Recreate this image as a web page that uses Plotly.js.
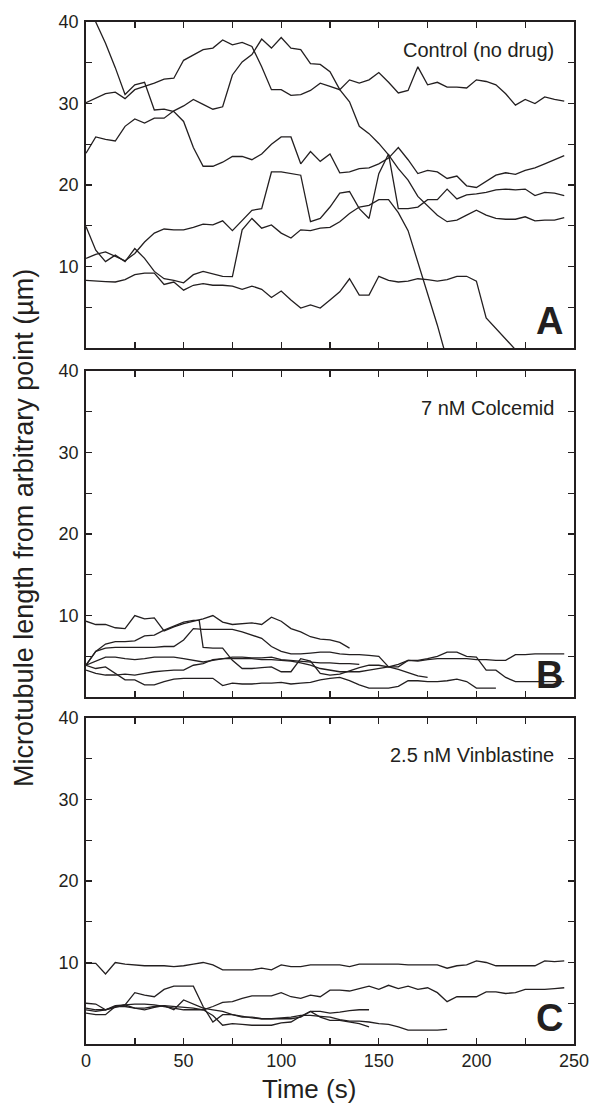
<!DOCTYPE html>
<html><head><meta charset="utf-8">
<script src="https://cdn.plot.ly/plotly-3.0.1.min.js"></script>
<style>html,body{margin:0;padding:0;background:#fff}</style>
</head><body><div id="chart" style="width:591px;height:1109px"></div>
<script>
// ---- time grids (s) ----
const t0to245 = [0,5,10,15,20,25,30,35,40,45,50,55,60,65,70,75,80,85,90,95,100,105,110,115,120,125,130,135,140,145,150,155,160,165,170,175,180,185,190,195,200,205,210,215,220,225,230,235,240,245];
const t0to220 = [0,5,10,15,20,25,30,35,40,45,50,55,60,65,70,75,80,85,90,95,100,105,110,115,120,125,130,135,140,145,150,155,160,165,170,175,180,185,190,195,200,205,210,215,220];
const t0to210 = [0,5,10,15,20,25,30,35,40,45,50,55,60,65,70,75,80,85,90,95,100,105,110,115,120,125,130,135,140,145,150,155,160,165,170,175,180,185,190,195,200,205,210];
const t0to185 = [0,5,10,15,20,25,30,35,40,45,50,55,60,65,70,75,80,85,90,95,100,105,110,115,120,125,130,135,140,145,150,155,160,165,170,175,180,185];
const t0to145 = [0,5,10,15,20,25,30,35,40,45,50,55,60,65,70,75,80,85,90,95,100,105,110,115,120,125,130,135,140,145];
const t0to140 = [0,5,10,15,20,25,30,35,40,45,50,55,60,65,70,75,80,85,90,95,100,105,110,115,120,125,130,135,140];
const t0to135 = [0,5,10,15,20,25,30,35,40,45,50,55,60,65,70,75,80,85,90,95,100,105,110,115,120,125,130,135];
const tB2 = [0,5,10,15,20,25,30,35,40,45,50,55,58,60,65,70,75,80,85,90,95,100,105,110,115,120,125,130,135,140,145,150,155,160,165,170,175];

// ---- Panel A: Control (no drug), length in µm ----
const lenA1 = [43,40,37.4,34.4,31.1,32.3,32.6,29.2,29.3,29.0,27.8,24.6,22.3,22.3,22.8,23.5,23.5,23.1,23.8,25.0,25.9,25.9,22.6,24.1,22.9,23.8,21.5,21.6,22.0,22.1,22.6,23.3,24.6,23.1,21.4,21.8,21.6,20.8,21.1,19.9,19.7,20.4,21.2,21.5,21.3,21.8,22.1,22.6,23.1,23.6];
const lenA2 = [30.1,30.6,31.2,31.4,30.6,31.7,32.1,32.5,33.0,33.1,35.3,36.0,36.6,36.8,37.8,37.2,37.5,37.0,34.5,31.7,31.7,31.0,31.1,31.6,32.5,32.1,31.7,32.9,32.5,32.9,33.8,32.6,31.3,31.6,34.5,32.3,32.6,32.0,32.0,31.9,32.9,32.7,32.3,31.2,29.8,30.5,30.0,30.8,30.5,30.3];
const lenA3 = [23.9,25.9,25.6,25.4,27.2,28.1,27.6,28.2,28.2,29.1,29.7,30.5,29.9,29.3,29.6,33.5,35.1,36.0,37.9,36.8,38.1,36.8,36.6,34.9,34.8,33.9,31.7,30.2,27.2,26.3,25.1,23.7,22.0,20.6,18.6,17.5,16.3,15.5,15.7,16.3,16.9,16.3,15.9,15.8,15.8,16.1,15.6,15.7,15.7,16.0];
const lenA4 = [11.0,11.5,11.8,11.3,10.7,11.6,13.0,14.1,14.6,14.5,14.5,14.8,15.2,15.1,15.6,14.4,15.7,16.9,17.1,21.6,21.6,21.4,21.2,15.5,15.9,17.3,19.0,19.2,17.1,15.9,21.4,23.8,17.1,17.1,17.3,18.2,18.2,19.5,18.3,18.8,18.9,19.1,19.4,19.5,19.4,19.5,18.7,19.1,19.0,18.7];
const lenA5 = [14.9,12.0,10.6,11.4,10.6,12.2,11.0,9.4,8.5,8.3,8.0,9.0,9.4,9.1,8.8,8.75,14.5,15.9,14.7,15.1,14.1,13.5,14.5,14.4,14.7,14.8,15.5,16.5,17.3,17.5,18.2,18.2,16.6,14.4,10.6,6.8,2.8,-1.5];
const lenA6 = [8.3,8.2,8.15,8.1,8.4,9.0,9.2,9.2,7.8,8.1,7.1,7.7,7.9,7.7,7.7,7.6,7.2,7.6,7.2,6.2,7.0,5.9,4.9,5.3,4.9,5.9,6.9,8.5,6.5,6.5,8.8,8.3,8.1,8.2,8.5,8.4,8.2,8.4,8.8,8.8,8.2,3.7,2.4,1.0,-0.2];

// ---- Panel B: 7 nM Colcemid ----
const lenB1 = [9.3,8.9,8.9,8.5,8.4,10.0,9.6,9.7,8.1,8.6,9.0,9.3,9.6,10.0,9.2,8.9,9.0,9.1,8.9,9.8,9.3,8.4,8.0,7.4,7.1,7.0,6.7,6.0];
const lenB2 = [3.9,5.6,6.5,6.8,6.8,6.9,7.5,7.6,8.2,8.7,9.2,9.4,9.4,6.1,6.0,6.0,4.5,3.5,3.5,3.6,3.7,3.1,3.1,4.7,4.4,2.9,2.7,2.8,3.2,3.6,3.9,3.9,3.7,3.4,3.0,2.6,2.4];
const lenB3 = [3.9,5.6,6.0,6.1,6.1,6.1,6.1,6.1,6.2,6.2,7.0,8.4,8.3,8.3,8.3,8.3,8.0,7.6,7.2,6.2,5.6,5.3,5.3,5.4,5.5,5.5,5.3,5.2,5.2,5.1,5.0,3.7,3.7,4.5,4.5,4.7,5.0,5.5,5.5,5.0,4.9,3.3,3.3,2.4,1.9,1.9,1.9,1.9,1.9,1.9];
const lenB4 = [3.9,4.4,4.9,4.9,4.7,4.6,4.7,4.9,4.9,4.9,4.7,4.5,4.3,4.5,4.7,4.9,4.9,4.8,4.8,4.9,4.6,4.5,4.4,4.3,4.2,4.2,4.1,4.1,4.0];
const lenB5 = [3.3,2.9,2.7,2.7,2.8,2.7,2.9,3.1,3.2,3.3,3.3,3.9,4.1,4.6,4.7,4.7,4.7,4.7,4.6,4.6,4.5,4.4,4.2,3.9,3.5,3.3,3.1,3.1,3.1,3.3,3.5,3.7,4.0,4.5,4.4,4.6,4.7,4.7,4.7,4.7,4.6,4.6,4.5,4.5,5.2,5.2,5.3,5.3,5.3,5.3];
const lenB6 = [3.9,3.5,3.7,2.9,2.1,2.1,1.5,1.5,1.9,2.2,2.3,2.3,2.3,2.3,1.4,1.7,1.6,1.6,1.7,1.7,1.8,1.6,1.7,1.8,2.1,2.3,2.4,2.0,1.5,1.1,1.1,1.1,1.3,2.0,2.0,1.9,1.9,2.0,2.2,1.9,1.1,1.1,1.1];

// ---- Panel C: 2.5 nM Vinblastine ----
const lenC1 = [9.9,9.9,8.6,10.0,9.8,9.7,9.6,9.6,9.6,9.5,9.6,9.8,10.0,9.7,9.1,9.1,9.1,9.1,9.3,9.1,9.7,9.5,9.5,9.7,9.7,9.7,9.7,9.5,9.8,9.8,9.8,9.8,9.8,9.7,9.7,9.7,9.7,9.3,9.6,9.7,10.2,10.0,9.6,9.6,9.6,9.6,9.6,10.2,10.1,10.2];
const lenC2 = [5.0,4.9,4.2,4.7,4.8,4.9,4.9,4.8,4.6,4.4,4.2,4.2,4.2,4.6,5.1,5.2,5.6,5.9,5.9,5.9,6.3,5.8,5.6,6.0,5.8,6.6,6.6,6.5,6.8,7.1,6.7,7.2,6.8,7.1,6.7,6.9,6.3,5.2,5.8,5.8,5.8,6.4,6.4,6.2,6.3,6.7,6.7,6.7,6.8,6.9];
const lenC3 = [4.4,4.2,4.2,4.5,4.8,6.3,6.0,5.8,6.7,7.1,7.1,7.1,4.6,2.7,3.6,3.6,3.3,3.3,3.1,3.1,3.1,3.1,3.3,4.0,4.0,3.8,3.9,4.1,4.2,4.2];
const lenC4 = [4.2,4.0,4.2,4.6,4.8,4.4,4.2,4.5,4.7,4.2,5.4,4.9,4.4,4.2,4.0,3.6,3.4,3.2,3.1,3.1,3.2,3.3,3.5,3.5,3.4,3.3,3.0,2.8,2.8,2.7,2.5,2.4,2.1,1.7,1.7,1.7,1.7,1.8];
const lenC5 = [3.8,3.6,3.6,4.6,4.6,4.4,4.4,4.6,4.7,4.6,4.5,4.4,4.2,3.5,2.3,2.5,2.4,2.3,2.3,2.3,2.6,2.7,3.4,4.0,3.3,2.9,2.9,2.7,2.5,2.1];

// ---- ticks ----
const xTickVals = [0,25,50,75,100,125,150,175,200,225,250];
const xTickText = ['0','','50','','100','','150','','200','','250'];
const yTickVals = [0,5,10,15,20,25,30,35,40];
const yTickText = ['','','10','','20','','30','','40'];
const panelNotes = ['Control (no drug)','7 nM Colcemid','2.5 nM Vinblastine'];
const panelLetters = ['A','B','C'];

const INK = '#231f20';
const FONT = 'Liberation Sans, Arial, Helvetica, sans-serif';

const panels = [
  {ax:['x','y'], series:[[t0to245,lenA1],[t0to245,lenA2],[t0to245,lenA3],[t0to245,lenA4],[t0to185,lenA5],[t0to220,lenA6]]},
  {ax:['x2','y2'], series:[[t0to135,lenB1],[tB2,lenB2],[t0to245,lenB3],[t0to140,lenB4],[t0to245,lenB5],[t0to210,lenB6]]},
  {ax:['x3','y3'], series:[[t0to245,lenC1],[t0to245,lenC2],[t0to145,lenC3],[t0to185,lenC4],[t0to145,lenC5]]}
];
const traces = [];
panels.forEach(p => p.series.forEach(s => traces.push({
  type:'scatter', mode:'lines', x:s[0], y:s[1], xaxis:p.ax[0], yaxis:p.ax[1],
  line:{color:INK, width:1.3}, hoverinfo:'skip', showlegend:false
})));

function xa(anchor, labels){
  return {anchor, range:[0,250], tickvals:xTickVals, ticktext: labels ? xTickText : xTickVals.map(()=> ''),
    ticks:'inside', ticklen:6, tickwidth:1.4, tickcolor:INK, showline:true, linecolor:INK, linewidth:1.8,
    mirror:'ticks', showgrid:false, zeroline:false, fixedrange:true,
    tickfont:{family:FONT, size:18, color:INK}};
}
function ya(anchor, domain){
  return {anchor, domain, range:[0,40], tickvals:yTickVals, ticktext:yTickText,
    ticks:'inside', ticklen:6, tickwidth:1.4, tickcolor:INK, showline:true, linecolor:INK, linewidth:1.8,
    mirror:'ticks', showgrid:false, zeroline:false, fixedrange:true, ticklabelstandoff:2,
    tickfont:{family:FONT, size:18, color:INK}};
}

const noteY = [36.6, 35.5, 35.5];
const letterY = [3.3, 2.7, 3.2];
const annotations = [];
['', '2', '3'].forEach((k, i) => {
  annotations.push({xref:'x'+k, yref:'y'+k, x:241, y:noteY[i], text:panelNotes[i], showarrow:false,
    xanchor:'right', yanchor:'middle', font:{family:FONT, size:20, color:INK}});
  annotations.push({xref:'x'+k, yref:'y'+k, x:245.5, y:letterY[i], text:'<b>'+panelLetters[i]+'</b>', showarrow:false,
    xanchor:'right', yanchor:'middle', font:{family:FONT, size:38, color:INK}});
});
annotations.push({xref:'paper', yref:'paper', x:-0.127, y:0.505, text:'Microtubule length from arbitrary point (µm)',
  textangle:-90, showarrow:false, xanchor:'center', yanchor:'middle', font:{family:FONT, size:27, color:INK}});
annotations.push({xref:'paper', yref:'paper', x:0.457, y:-0.044, text:'Time (s)',
  showarrow:false, xanchor:'center', yanchor:'middle', font:{family:FONT, size:26, color:INK}});

const layout = {
  width:591, height:1109, margin:{l:86, r:17, t:22, b:65},
  paper_bgcolor:'#fff', plot_bgcolor:'#fff', showlegend:false,
  xaxis: xa('y', false), xaxis2: xa('y2', false), xaxis3: xa('y3', true),
  yaxis: ya('x', [0.681, 1]), yaxis2: ya('x2', [0.3395, 0.6585]), yaxis3: ya('x3', [0, 0.319]),
  annotations
};
Plotly.newPlot('chart', traces, layout, {staticPlot:true, displayModeBar:false});
</script></body></html>
